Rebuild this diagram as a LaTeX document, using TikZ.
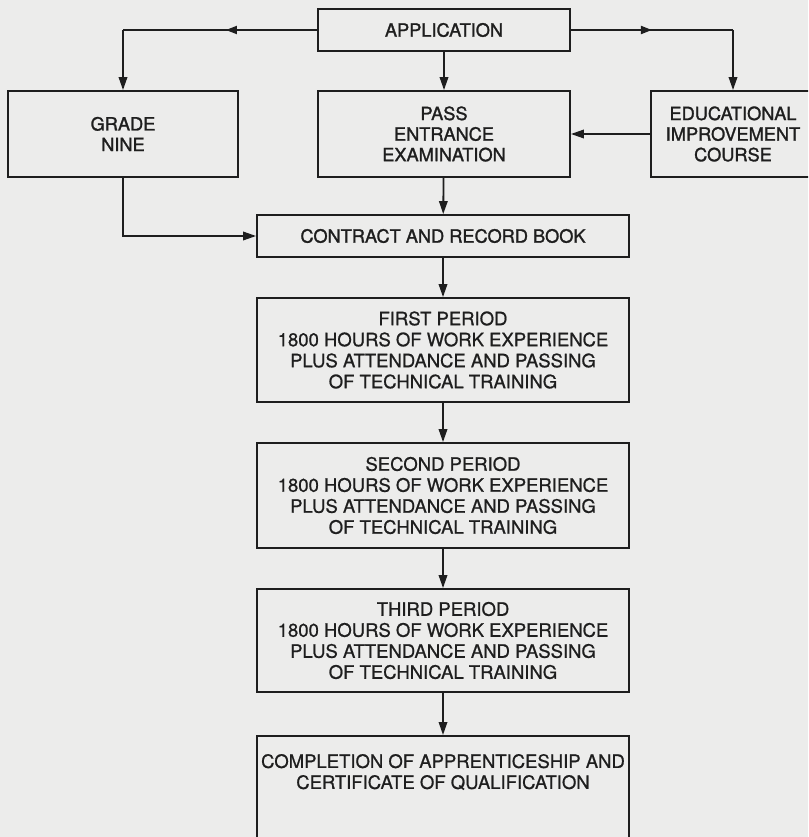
\documentclass[tikz,border=0pt]{standalone}
\usepackage{fontspec}
\setmainfont{TeX Gyre Heros}
\newfontfamily\medfont{TeX Gyre Heros}[FakeBold=1.4]
\newfontfamily\regfont{TeX Gyre Heros}[FakeBold=0.8]
\usetikzlibrary{arrows.meta,decorations.markings}
\definecolor{bgc}{RGB}{236,236,235}
\definecolor{ink}{RGB}{30,30,30}
\begin{document}
\begin{tikzpicture}[x=1pt,y=-1pt,
  boxnode/.style={draw=ink, line width=1.8pt, rectangle, inner sep=0pt, align=center, text=ink,
    font=\regfont\fontsize{18.5}{21}\selectfont},
  topbox/.style={boxnode, font=\medfont\fontsize{18.2}{20.6}\selectfont},
  textnode/.style={inner sep=0pt, align=center, text=ink, font=\regfont\fontsize{18.5}{21}\selectfont},
  conn/.style={ink, line width=1.8pt},
  endarrow/.style={-{Triangle[length=13pt,width=8.5pt]}},
  midarrow/.style={postaction={decorate}, decoration={markings,
    mark=at position #1 with {\arrow{Triangle[length=11pt,width=8pt]}}}},
  midarrow/.default=0.5
]
\fill[bgc] (0,0) rectangle (808,837);
\useasboundingbox (0,0) rectangle (808,837);
\clip (0,0) rectangle (808,837);

\node[topbox, minimum width=252pt, minimum height=42pt] (app) at (444,30) {APPLICATION};
\node[topbox, minimum width=230pt, minimum height=86pt] (grade) at (123,134) {GRADE\\NINE};
\node[topbox, minimum width=252pt, minimum height=86pt] (pass) at (444,134) {PASS\\ENTRANCE\\EXAMINATION};
\node[topbox, minimum width=164pt, minimum height=86pt] (edu) at (733,134) {EDUCATIONAL\\IMPROVEMENT\\COURSE};
\node[topbox, minimum width=372pt, minimum height=42pt] (contract) at (443,236) {CONTRACT AND RECORD BOOK};
\node[boxnode, minimum width=372pt, minimum height=104pt] (p1) at (443,350)
  {FIRST PERIOD\\1800 HOURS OF WORK EXPERIENCE\\PLUS ATTENDANCE AND PASSING\\OF TECHNICAL TRAINING};
\node[boxnode, minimum width=372pt, minimum height=105pt] (p2) at (443,495.5)
  {SECOND PERIOD\\1800 HOURS OF WORK EXPERIENCE\\PLUS ATTENDANCE AND PASSING\\OF TECHNICAL TRAINING};
\node[boxnode, minimum width=372pt, minimum height=103pt] (p3) at (443,640.5)
  {THIRD PERIOD\\1800 HOURS OF WORK EXPERIENCE\\PLUS ATTENDANCE AND PASSING\\OF TECHNICAL TRAINING};
\node[boxnode, minimum width=372pt, minimum height=150pt, anchor=north] (comp) at (443,735) {};
\node[textnode] (comptext) at (443,772)
  {COMPLETION OF APPRENTICESHIP AND\\CERTIFICATE OF QUALIFICATION};

\coordinate (cl) at (grade.north |- app.west);
\coordinate (cr) at (edu.north |- app.east);
\draw[conn, midarrow=0.47] (app.west) -- (cl);
\draw[conn, endarrow] (cl) -- (grade.north);
\draw[conn, midarrow=0.5] (app.east) -- (cr);
\draw[conn, endarrow] (cr) -- (edu.north);
\draw[conn, endarrow] (app) -- (pass);
\draw[conn, endarrow] (edu.west) -- (pass.east);
\draw[conn, endarrow] (pass) -- (contract);
\draw[conn, endarrow] (grade.south) |- (contract.west);
\draw[conn, endarrow] (contract) -- (p1);
\draw[conn, endarrow] (p1) -- (p2);
\draw[conn, endarrow] (p2) -- (p3);
\draw[conn, endarrow] (p3) -- (comp.north);
\end{tikzpicture}
\end{document}
